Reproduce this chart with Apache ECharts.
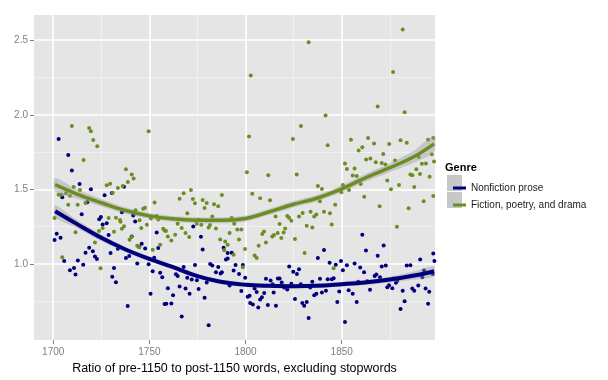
<!DOCTYPE html>
<html>
<head>
<meta charset="utf-8">
<script src="https://cdn.jsdelivr.net/npm/echarts@6/dist/echarts.min.js"></script>
<style>html,body{margin:0;padding:0;background:#fff}#c{width:608px;height:380px}</style>
</head>
<body>
<div id="c"></div>
<script>
// ---------- DATA ----------
const seriesNames = ['Nonfiction prose', 'Fiction, poetry, and drama'];
const xTicks = [1700, 1750, 1800, 1850];
const xMinorTicks = [1725, 1775, 1825, 1875];
const yTicks = [1.0, 1.5, 2.0, 2.5];
const yMinorTicks = [0.75, 1.25, 1.75, 2.25];

const navyPoints = [
[1702.8,1.837],[1707.8,1.731],[1709.7,1.627],[1713.7,1.535],[1719.6,1.5],[1704.7,1.447],[1726.7,1.46],[1717.7,1.413],
[1714.8,1.333],[1724.8,1.315],[1723.9,1.3],[1725.7,1.264],[1727.8,1.273],[1701.8,1.202],[1700.7,1.16],[1703.8,1.175],
[1718.7,1.109],[1720.6,1.084],[1716.8,1.075],[1721.7,1.049],[1722.7,1.033],[1705.7,1.02],[1712.8,1.022],[1715.6,0.995],
[1710.8,0.973],[1708.7,0.957],[1711.6,0.929],
[1736.8,1.517],[1730.5,1.475],[1735.7,1.347],[1741.6,1.324],[1742.6,1.284],[1753.8,1.211],[1728.8,1.193],[1740.8,1.184],
[1746,1.135],[1744.7,1.115],[1747.8,1.104],[1754.6,1.107],[1733.6,1.102],[1729.8,1.073],[1739.5,1.053],[1737.8,1.04],
[1752.5,1.042],[1743.7,1.002],[1749.6,0.997],[1731.6,0.973],[1751.7,0.951],[1755.6,0.94],[1756.7,0.911],[1730.7,0.913],
[1732.6,0.877],[1759.6,0.837],[1750.6,0.8],[1762.3,0.789],[1757.9,0.731],[1758.8,0.733],[1761.4,0.735],[1738.7,0.717],
[1772.8,1.251],[1776.8,1.182],[1777.7,1.097],[1788.6,1.109],[1790.7,1.073],[1792.8,1.075],[1789.8,1.029],[1790.7,1.037],
[1773.7,0.993],[1767.8,0.98],[1781.6,1.0],[1782.7,0.989],[1785.8,0.98],[1794.8,0.993],[1784.6,0.944],[1787,0.935],
[1787.7,0.944],[1793.8,0.955],[1763.8,0.931],[1764.7,0.918],[1769.7,0.907],[1772,0.895],[1774.7,0.891],[1779.8,0.875],
[1791.7,0.855],[1765.7,0.849],[1768.8,0.835],[1770.9,0.8],[1775.6,0.831],[1778.7,0.773],[1766.8,0.647],[1780.8,0.589],
[1798.6,0.993],[1796.6,0.933],[1799.8,0.907],[1822.7,0.982],[1824.8,0.947],[1826.7,0.933],[1827.8,0.964],[1810.6,0.9],
[1813,0.889],[1816.8,0.902],[1817.7,0.902],[1814.1,0.864],[1818.8,0.875],[1820.1,0.842],[1821.7,0.829],[1823.8,0.867],
[1828.7,0.864],[1804.7,0.835],[1805.8,0.811],[1797.8,0.818],[1809.7,0.804],[1814.6,0.809],[1801.1,0.78],[1802.1,0.787],
[1808.5,0.777],[1807.6,0.762],[1802.4,0.737],[1803.8,0.727],[1806.6,0.707],[1811.6,0.724],[1815.8,0.72],[1825.7,0.764],
[1829.5,0.737],[1830.5,0.72],
[1860.7,1.195],[1840.8,1.093],[1862.6,1.089],[1837.6,1.04],[1843.7,1.007],[1846.9,0.995],[1849.6,1.02],[1852.7,0.991],
[1856.7,1.002],[1859.6,0.975],[1861.6,0.944],[1850.6,0.957],[1838.7,0.9],[1842.7,0.897],[1844.8,0.897],[1845.8,0.904],
[1834.7,0.88],[1833.6,0.842],[1841.8,0.82],[1839.7,0.809],[1848.7,0.815],[1853.6,0.824],[1855.7,0.8],[1858.6,0.88],
[1863.3,0.884],[1864.7,0.827],[1835.7,0.789],[1836.8,0.8],[1831.8,0.744],[1847.7,0.744],[1857.8,0.744],[1832.8,0.637],
[1851.7,0.611],
[1871.8,1.124],[1868.7,1.055],[1897.6,1.069],[1898.2,1.02],[1890.8,1.029],[1870.8,0.982],[1872.9,0.989],[1883.8,0.989],
[1885.7,0.991],[1892.8,0.955],[1868,0.929],[1867.1,0.918],[1869.9,0.911],[1877,0.902],[1878.9,0.887],[1878.2,0.873],
[1874.6,0.857],[1873.7,0.844],[1876.3,0.837],[1881.7,0.82],[1886.7,0.835],[1887.7,0.82],[1889.8,0.855],[1891.9,0.911],
[1893.6,0.835],[1895.5,0.813],[1897.3,0.933],[1882.7,0.749],[1894.9,0.733],[1880.6,0.697]
];

const greenPoints = [
[1709.7,1.924],[1718.7,1.911],[1719.6,1.889],[1720.8,1.831],[1722.9,1.789],[1715.8,1.697],[1727.8,1.527],[1710.6,1.515],
[1713.9,1.495],[1702.8,1.464],[1704.2,1.464],[1706.6,1.473],[1708.7,1.457],[1707.8,1.397],[1712.7,1.397],[1716.8,1.409],
[1700.7,1.307],[1711.6,1.213],[1723.8,1.22],[1725.7,1.24],[1721.7,1.144],[1704.7,1.044],[1724.6,0.971],
[1749.6,1.889],[1737.8,1.635],[1740.8,1.6],[1741.8,1.573],[1738.8,1.549],[1729.6,1.537],[1736.1,1.522],[1733.6,1.509],
[1730.9,1.477],[1752.7,1.411],[1747.7,1.377],[1746.8,1.369],[1742.8,1.36],[1753.8,1.322],[1754.6,1.297],[1750.8,1.304],
[1728.8,1.307],[1732.6,1.309],[1734.7,1.295],[1735,1.282],[1744.9,1.293],[1748.7,1.262],[1736.8,1.253],[1735.7,1.235],
[1745.8,1.24],[1731.6,1.215],[1757.2,1.235],[1757.9,1.224],[1758.6,1.22],[1759.6,1.184],[1761.4,1.157],[1740.6,1.18],
[1739.7,1.162],[1743.7,1.122],[1744.7,1.111],[1755.6,1.129],[1751.7,1.095],
[1771.6,1.495],[1767.8,1.473],[1787.7,1.462],[1765.7,1.437],[1772.6,1.435],[1777.7,1.429],[1773.7,1.407],[1779.8,1.409],
[1783.6,1.4],[1785.8,1.387],[1778.7,1.375],[1769.7,1.34],[1782.7,1.317],[1775.6,1.295],[1792.8,1.307],[1764.7,1.269],
[1774.6,1.269],[1777,1.262],[1781.5,1.26],[1780.8,1.244],[1784.6,1.237],[1794.1,1.269],[1766.8,1.24],[1795.7,1.231],
[1768.8,1.207],[1763.4,1.195],[1770.7,1.18],[1791.7,1.207],[1786.8,1.164],[1796.6,1.164],[1789.4,1.151],[1790.7,1.129],
[1788.9,1.091],[1793.8,1.062],
[1828.8,1.924],[1801.8,1.855],[1824.6,1.837],[1800.7,1.615],[1811.8,1.595],[1826.6,1.6],[1803.5,1.471],[1807.6,1.44],
[1812.7,1.427],[1815.6,1.317],[1821.7,1.322],[1822.6,1.309],[1823.8,1.289],[1827.8,1.317],[1829.7,1.342],[1817.7,1.267],
[1820.6,1.237],[1819.8,1.211],[1797.8,1.231],[1809.6,1.218],[1808.7,1.2],[1813.9,1.184],[1814.8,1.193],[1816.7,1.207],
[1818.6,1.173],[1825.7,1.167],[1810.6,1.144],[1806.8,1.122],[1799.7,1.1],[1830.7,1.073],[1804.7,1.057],[1805.8,1.04],
[1798.6,0.977],
[1841.6,1.995],[1842.7,1.795],[1854.8,1.833],[1863.7,1.844],[1860.7,1.782],[1858.8,1.76],[1862.7,1.7],[1864.9,1.707],
[1851.7,1.673],[1852.7,1.637],[1856.7,1.64],[1855.7,1.593],[1857.8,1.589],[1837.6,1.522],[1839.7,1.502],[1850.6,1.529],
[1849.8,1.48],[1853.8,1.495],[1859.9,1.535],[1861.7,1.451],[1838.7,1.42],[1846.6,1.397],[1833.8,1.349],[1840.8,1.349],
[1843.9,1.34],[1836.8,1.331],[1835.7,1.317],[1831.8,1.255],[1834.7,1.244],[1844.8,1.264],[1845.8,0.971],
[1868.7,2.055],[1882.7,2.017],[1894.9,1.833],[1897.6,1.844],[1880.6,1.829],[1883.8,1.813],[1874.7,1.804],[1866.8,1.807],
[1871.6,1.737],[1896.8,1.735],[1890,1.717],[1867.7,1.682],[1870.8,1.677],[1872.7,1.667],[1877.7,1.693],[1891.7,1.671],
[1893.8,1.673],[1898,1.687],[1888.8,1.635],[1885.7,1.6],[1886.7,1.595],[1890.7,1.602],[1895.7,1.584],[1873.7,1.56],
[1879.8,1.529],[1887.7,1.515],[1875.6,1.5],[1897.6,1.455],[1892.6,1.42],[1869.7,1.387],[1884.8,1.373],[1878.7,1.249],
[1881.7,2.571],[1832.8,2.487],[1802.7,2.264],[1876.7,2.287]
];

// smoothed trend (loess)
const smoothYears = [1701,1712,1725,1737,1750,1762,1775,1787,1800,1812,1825,1837,1850,1862,1875,1887,1898];
const navySmooth  = [1.353,1.27,1.175,1.10,1.033,0.98,0.918,0.88,0.86,0.853,0.85,0.853,0.864,0.876,0.895,0.92,0.951];
const navyLo      = [1.313,1.243,1.153,1.083,1.017,0.965,0.903,0.865,0.845,0.838,0.835,0.838,0.848,0.859,0.874,0.893,0.916];
const navyHi      = [1.393,1.297,1.197,1.117,1.049,0.995,0.933,0.895,0.875,0.868,0.865,0.868,0.880,0.893,0.916,0.947,0.986];
const greenSmooth = [1.531,1.47,1.41,1.36,1.322,1.302,1.293,1.292,1.305,1.348,1.40,1.44,1.503,1.575,1.645,1.715,1.805];
const greenLo     = [1.486,1.438,1.385,1.339,1.302,1.282,1.273,1.272,1.285,1.328,1.379,1.418,1.480,1.549,1.615,1.675,1.750];
const greenHi     = [1.576,1.502,1.435,1.381,1.342,1.322,1.313,1.312,1.325,1.368,1.421,1.462,1.526,1.601,1.675,1.755,1.860];

// ---------- CHART ----------
const navy = '#00007f';
const green = '#6b8e23';
const font = 'Liberation Sans, Arial, Helvetica, sans-serif';
const chart = echarts.init(document.getElementById('c'), null, {renderer: 'canvas'});

function zip(xs, ys) { return xs.map((x, i) => [x, ys[i]]); }

function band(years, lo, hi) {
  return {
    type: 'custom',
    coordinateSystem: 'cartesian2d',
    silent: true,
    z: 3,
    data: years.map((y, i) => [y, lo[i], hi[i]]),
    renderItem: function (params, api) {
      if (params.dataIndex !== 0) return null;
      const pts = [];
      for (let i = 0; i < years.length; i++) pts.push(api.coord([years[i], hi[i]]));
      for (let i = years.length - 1; i >= 0; i--) pts.push(api.coord([years[i], lo[i]]));
      return {type: 'polygon', shape: {points: pts, smooth: 0.25}, style: {fill: 'rgba(153,153,153,0.4)'}};
    }
  };
}

const axisLabelStyle = {color: '#7f7f7f', fontSize: 10, fontFamily: font};

chart.setOption({
  animation: false,
  backgroundColor: '#ffffff',
  grid: {left: 34, right: 173, top: 15, bottom: 38, show: true, backgroundColor: '#e5e5e5', borderWidth: 0},
  title: {text: 'Genre', left: 440, top: 157, textStyle: {fontSize: 11, fontWeight: 'bold', color: '#000', fontFamily: font}},
  legend: {
    data: seriesNames.map(n => ({name: n})),
    orient: 'vertical', left: 448, top: 177, itemWidth: 13, itemHeight: 3, itemGap: 5, icon: 'rect',
    textStyle: {fontSize: 10, color: '#1a1a1a', fontFamily: font, lineHeight: 12},
    selectedMode: false
  },
  graphic: [
    {type: 'rect', left: 447, top: 175, shape: {width: 15, height: 16}, style: {fill: '#c8c8c8'}, z: -1},
    {type: 'rect', left: 447, top: 192, shape: {width: 15, height: 16}, style: {fill: '#c8c8c8'}, z: -1}
  ],
  xAxis: [
    {
      type: 'value', min: 1690, max: 1898.5,
      name: 'Ratio of pre-1150 to post-1150 words, excluding stopwords',
      nameLocation: 'middle', nameGap: 11,
      nameTextStyle: {color: '#000', fontSize: 12.5, fontFamily: font},
      axisLine: {show: false},
      axisTick: {show: true, length: 4, lineStyle: {color: '#7f7f7f'}, customValues: xTicks},
      axisLabel: Object.assign({customValues: xTicks, margin: 7, formatter: v => String(v)}, axisLabelStyle),
      splitLine: {show: true, lineStyle: {color: '#ffffff', width: 1.6}}
    },
    {
      type: 'value', min: 1690, max: 1898.5, position: 'bottom',
      axisLine: {show: false},
      axisTick: {show: false, customValues: xMinorTicks},
      axisLabel: {show: false, customValues: xMinorTicks},
      splitLine: {show: true, lineStyle: {color: '#f0f0f0', width: 1}}
    }
  ],
  yAxis: [
    {
      type: 'value', min: 0.489, max: 2.669,
      axisLine: {show: false},
      axisTick: {show: true, length: 4, lineStyle: {color: '#7f7f7f'}, customValues: yTicks},
      axisLabel: Object.assign({customValues: yTicks, margin: 6, formatter: v => v.toFixed(1)}, axisLabelStyle),
      splitLine: {show: true, lineStyle: {color: '#ffffff', width: 1.6}}
    },
    {
      type: 'value', min: 0.489, max: 2.669, position: 'left',
      axisLine: {show: false},
      axisTick: {show: false, customValues: yMinorTicks},
      axisLabel: {show: false, customValues: yMinorTicks},
      splitLine: {show: true, lineStyle: {color: '#f0f0f0', width: 1}}
    }
  ],
  series: [
    {type: 'scatter', name: 'navyPts', data: navyPoints, symbolSize: 4, itemStyle: {color: navy, opacity: 1}, z: 2, silent: true},
    {type: 'scatter', name: 'greenPts', data: greenPoints, symbolSize: 4, itemStyle: {color: green, opacity: 1}, z: 2, silent: true},
    band(smoothYears, navyLo, navyHi),
    band(smoothYears, greenLo, greenHi),
    {type: 'line', name: seriesNames[0], data: zip(smoothYears, navySmooth), smooth: 0.4, showSymbol: false,
     lineStyle: {color: navy, width: 4}, itemStyle: {color: navy}, z: 4},
    {type: 'line', name: seriesNames[1], data: zip(smoothYears, greenSmooth), smooth: 0.4, showSymbol: false,
     lineStyle: {color: green, width: 3.5}, itemStyle: {color: green}, z: 4}
  ]
});
</script>
</body>
</html>
